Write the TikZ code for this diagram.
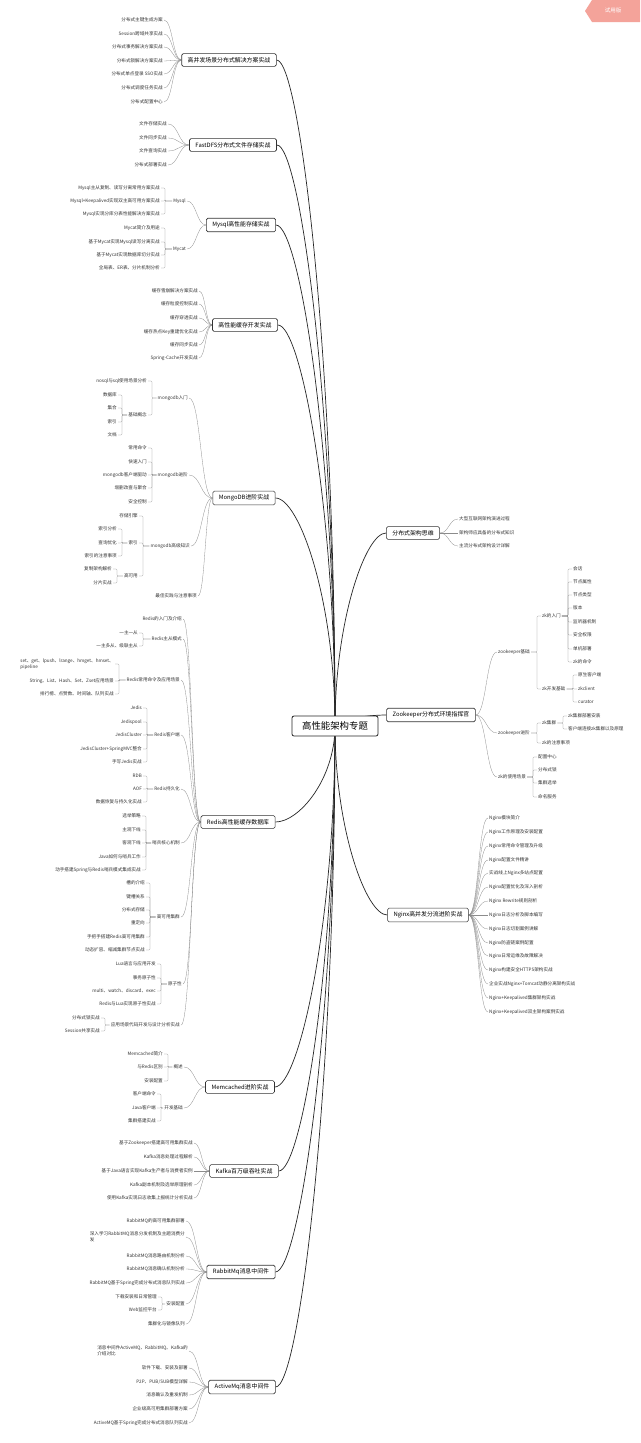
\documentclass[tikz,border=0pt]{standalone}
\usepackage{fontspec}
\setmainfont{Noto Sans CJK SC}
\usetikzlibrary{calc,backgrounds}

\newcommand\leaffont{\fontsize{4.6}{5.6}\selectfont}
\newcommand\topicfont{\fontsize{5.9}{7}\selectfont}
\newcommand\rootfont{\fontsize{9.4}{11}\selectfont}
\definecolor{wmsalmon}{HTML}{F4A39A}

\tikzset{
  root/.style={draw=black!85,line width=0.8pt,rounded corners=2pt,fill=white,font=\rootfont,minimum width=86pt,minimum height=20pt},
  topic/.style={draw=black!80,line width=0.6pt,rounded corners=1.5pt,fill=white,font=\topicfont,inner xsep=6pt,inner ysep=3.6pt},
  leaf/.style={font=\leaffont,text=black!80,inner xsep=1pt,inner ysep=0.6pt},
  ll/.style={leaf,anchor=east},
  rl/.style={leaf,anchor=west},
  trunk/.style={draw=black!85,line width=0.7pt,
    to path={.. controls ($(\tikztostart)!0.55!(\tikztostart|-\tikztotarget)$)
      and ($(\tikztotarget)!0.4!(\tikztotarget-|\tikztostart)$) .. (\tikztotarget)}},
  twig/.style={draw=black!45,line width=0.3pt,
    to path={.. controls ($(\tikztostart)!0.5!(\tikztostart-|\tikztotarget)$)
      and ($(\tikztotarget)!0.5!(\tikztotarget-|\tikztostart)$) .. (\tikztotarget)}},
  forkL/.style={draw=black!45,line width=0.3pt,rounded corners=1pt,
    to path={-| ($(\tikztotarget)+(4,0)$) -- (\tikztotarget)}},
  forkR/.style={draw=black!45,line width=0.3pt,rounded corners=1pt,
    to path={-| ($(\tikztotarget)+(-4,0)$) -- (\tikztotarget)}},
}

\begin{document}
\begin{tikzpicture}[x=1pt,y=-1pt]
\useasboundingbox (0,0) rectangle (640,1443);

\node[root] (C) at (335,726) {高性能架构专题};

% left side
\node[topic] (hc) at (229,60) {高并发场景分布式解决方案实战};
\node[ll] (hc1) at (164,20) {分布式主键生成方案};
\node[ll] (hc2) at (164,34) {Session跨域共享实战};
\node[ll] (hc3) at (164,47) {分布式事务解决方案实战};
\node[ll] (hc4) at (164,61) {分布式锁解决方案实战};
\node[ll] (hc5) at (164,74) {分布式单点登录 SSO实战};
\node[ll] (hc6) at (164,88) {分布式调度任务实战};
\node[ll] (hc7) at (164,102) {分布式配置中心};

\node[topic] (fd) at (233,145) {FastDFS分布式文件存储实战};
\node[ll] (fd1) at (168,124) {文件存储实战};
\node[ll] (fd2) at (168,138) {文件同步实战};
\node[ll] (fd3) at (168,151) {文件查询实战};
\node[ll] (fd4) at (168,165) {分布式部署实战};

\node[topic] (my) at (241,225) {Mysql高性能存储实战};
\node[ll] (myA) at (187,201) {Mysql};
\node[ll] (myB) at (187,249) {Mycat};
\node[ll] (myA1) at (161,188) {Mysql主从复制、读写分离常用方案实战};
\node[ll] (myA2) at (161,201) {Mysql+Keepalived实现双主高可用方案实战};
\node[ll] (myA3) at (161,214) {Mysql实现分库分表性能解决方案实战};
\node[ll] (myB1) at (161,228) {Mycat简介及用途};
\node[ll] (myB2) at (161,242) {基于Mycat实现Mysql读写分离实战};
\node[ll] (myB3) at (161,255) {基于Mycat实现数据库切分实战};
\node[ll] (myB4) at (161,268) {全局表、ER表、分片机制分析};

\node[topic] (ca) at (245,325) {高性能缓存开发实战};
\node[ll] (ca1) at (199,291) {缓存雪崩解决方案实战};
\node[ll] (ca2) at (199,304) {缓存粒度控制实战};
\node[ll] (ca3) at (199,318) {缓存穿透实战};
\node[ll] (ca4) at (199,332) {缓存热点Key重建优化实战};
\node[ll] (ca5) at (199,345) {缓存同步实战};
\node[ll] (ca6) at (199,358) {Spring-Cache开发实战};

\node[topic] (mg) at (244,498) {MongoDB进阶实战};
\node[ll] (mgA) at (189,398) {mongodb入门};
\node[ll] (mgA1) at (148,381) {nosql与sql使用场景分析};
\node[ll] (mgA2) at (148,415) {基础概念};
\node[ll] (mgA21) at (118,395) {数据库};
\node[ll] (mgA22) at (118,408) {集合};
\node[ll] (mgA23) at (118,422) {索引};
\node[ll] (mgA24) at (118,435) {文档};
\node[ll] (mgB) at (189,475) {mongodb进阶};
\node[ll] (mgB1) at (148,448) {常用命令};
\node[ll] (mgB2) at (148,462) {快速入门};
\node[ll] (mgB3) at (148,475) {mongodb客户端驱动};
\node[ll] (mgB4) at (148,488) {增删改查与聚合};
\node[ll] (mgB5) at (148,502) {安全控制};
\node[ll] (mgC) at (191,546) {mongodb高级知识};
\node[ll] (mgC1) at (139,516) {存储引擎};
\node[ll] (mgC2) at (139,543) {索引};
\node[ll] (mgC3) at (139,576) {高可用};
\node[ll] (mgC21) at (118,529) {索引分析};
\node[ll] (mgC22) at (118,543) {查询优化};
\node[ll] (mgC23) at (118,556) {索引的注意事项};
\node[ll] (mgC31) at (113,569) {复制架构解析};
\node[ll] (mgC32) at (113,583) {分片实战};
\node[ll] (mgD) at (198,596) {最佳实践与注意事项};

\node[topic] (rd) at (238,822) {Redis高性能缓存数据库};
\node[ll] (rdA) at (183,619) {Redis的入门及介绍};
\node[ll] (rdB) at (183,639) {Redis主从模式};
\node[ll] (rdB1) at (139,633) {一主一从};
\node[ll] (rdB2) at (139,646) {一主多从、级联主从};
\node[ll] (rdC) at (181,680) {Redis常用命令及应用场景};
\node[ll,align=left] (rdC1) at (115,664) {set、get、lpush、lrange、hmget、hmset、\\pipeline};
\node[ll] (rdC2) at (115,681) {String、List、Hash、Set、Zset应用场景};
\node[ll] (rdC3) at (115,694) {排行榜、点赞数、时间轴、队列实战};
\node[ll] (rdD) at (181,735) {Redis客户端};
\node[ll] (rdD1) at (143,708) {Jedis};
\node[ll] (rdD2) at (143,722) {Jedispool};
\node[ll] (rdD3) at (143,735) {JedisCluster};
\node[ll] (rdD4) at (143,749) {JedisCluster+SpringMVC整合};
\node[ll] (rdD5) at (143,762) {手写Jedis实战};
\node[ll] (rdE) at (181,789) {Redis持久化};
\node[ll] (rdE1) at (143,776) {RDB};
\node[ll] (rdE2) at (143,789) {AOF};
\node[ll] (rdE3) at (143,802) {数据恢复与持久化实战};
\node[ll] (rdF) at (181,843) {哨兵核心机制};
\node[ll] (rdF1) at (142,816) {选举策略};
\node[ll] (rdF2) at (142,830) {主观下线};
\node[ll] (rdF3) at (142,843) {客观下线};
\node[ll] (rdF4) at (142,857) {Java如何与哨兵工作};
\node[ll] (rdF5) at (142,870) {动手搭建Spring与Redis哨兵模式集成实战};
\node[ll] (rdG) at (181,917) {高可用集群};
\node[ll] (rdG1) at (146,883) {槽的介绍};
\node[ll] (rdG2) at (146,897) {键槽关系};
\node[ll] (rdG3) at (146,910) {分布式存储};
\node[ll] (rdG4) at (146,923) {重定向};
\node[ll] (rdG5) at (146,937) {手把手搭建Redis高可用集群};
\node[ll] (rdG6) at (146,950) {动态扩容、缩减集群节点实战};
\node[ll] (rdH) at (183,984) {原子性};
\node[ll] (rdH1) at (157,964) {Lua语言与应用开发};
\node[ll] (rdH2) at (157,978) {事务原子性};
\node[ll] (rdH3) at (157,991) {multi、watch、discard、exec};
\node[ll] (rdH4) at (157,1004) {Redis与Lua实现原子性实战};
\node[ll] (rdI) at (181,1025) {应用场景代码开发与设计分析实战};
\node[ll] (rdI1) at (101,1018) {分布式锁实战};
\node[ll] (rdI2) at (101,1031) {Session共享实战};

\node[topic] (mc) at (240,1087) {Memcached进阶实战};
\node[ll] (mcA) at (184,1067) {概述};
\node[ll] (mcA1) at (164,1054) {Memcached简介};
\node[ll] (mcA2) at (164,1067) {与Redis区别};
\node[ll] (mcA3) at (164,1081) {安装配置};
\node[ll] (mcB) at (184,1108) {开发基础};
\node[ll] (mcB1) at (157,1094) {客户端命令};
\node[ll] (mcB2) at (157,1108) {Java客户端};
\node[ll] (mcB3) at (157,1121) {集群搭建实战};

\node[topic] (kf) at (244,1171) {Kafka百万级吞吐实战};
\node[ll] (kf1) at (194,1143) {基于Zookeeper搭建高可用集群实战};
\node[ll] (kf2) at (194,1157) {Kafka消息处理过程解析};
\node[ll] (kf3) at (194,1171) {基于Java语言实现Kafka生产者与消费者实例};
\node[ll] (kf4) at (194,1185) {Kafka副本机制及选举原理剖析};
\node[ll] (kf5) at (194,1198) {使用Kafka实现日志收集上报统计分析实战};

\node[topic] (rb) at (241,1272) {RabbitMq消息中间件};
\node[ll] (rb1) at (186,1221) {RabbitMQ的高可用集群部署};
\node[ll,align=left] (rb2) at (186,1237) {深入学习RabbitMQ消息分发机制及主题消费分\\发};
\node[ll] (rb3) at (186,1256) {RabbitMQ消息路由机制分析};
\node[ll] (rb4) at (186,1269) {RabbitMQ消息确认机制分析};
\node[ll] (rb5) at (186,1283) {RabbitMQ基于Spring完成分布式消息队列实战};
\node[ll] (rbA) at (186,1304) {安装配置};
\node[ll] (rbA1) at (158,1297) {下载安装和日常管理};
\node[ll] (rbA2) at (158,1310) {Web监控平台};
\node[ll] (rb7) at (186,1324) {集群化与镜像队列};

\node[topic] (am) at (242,1387) {ActiveMq消息中间件};
\node[ll,align=left] (am1) at (189,1351) {消息中间件ActiveMQ、RabbitMQ、Kafka的\\介绍对比};
\node[ll] (am2) at (189,1368) {软件下载、安装及部署};
\node[ll] (am3) at (189,1382) {P2P、PUB/SUB模型详解};
\node[ll] (am4) at (189,1395) {消息确认及重发机制};
\node[ll] (am5) at (189,1409) {企业级高可用集群部署方案};
\node[ll] (am6) at (189,1423) {ActiveMQ基于Spring完成分布式消息队列实战};

% right side
\node[topic] (ds) at (413,533) {分布式架构思维};
\node[rl] (ds1) at (458,519) {大型互联网架构演进过程};
\node[rl] (ds2) at (458,533) {架构师应具备的分布式知识};
\node[rl] (ds3) at (458,546) {主流分布式架构设计详解};

\node[topic] (zk) at (431,715) {Zookeeper分布式环境指挥官};
\node[rl] (zkA) at (497,652) {zookeeper基础};
\node[rl] (zkA1) at (541,616) {zk的入门};
\node[rl] (zkA2) at (541,689) {zk开发基础};
\node[rl] (zkA11) at (572,569) {会话};
\node[rl] (zkA12) at (572,582) {节点属性};
\node[rl] (zkA13) at (572,595) {节点类型};
\node[rl] (zkA14) at (572,608) {版本};
\node[rl] (zkA15) at (572,622) {监听器机制};
\node[rl] (zkA16) at (572,635) {安全权限};
\node[rl] (zkA17) at (572,649) {单机部署};
\node[rl] (zkA18) at (572,662) {zk的命令};
\node[rl] (zkA21) at (577,675) {原生客户端};
\node[rl] (zkA22) at (577,689) {zkclient};
\node[rl] (zkA23) at (577,702) {curator};
\node[rl] (zkB) at (497,733) {zookeeper进阶};
\node[rl] (zkB1) at (541,723) {zk集群};
\node[rl] (zkB2) at (541,743) {zk的注意事项};
\node[rl] (zkB11) at (567,716) {zk集群部署安装};
\node[rl] (zkB12) at (567,729) {客户端连接zk集群以及原理};
\node[rl] (zkC) at (497,777) {zk的使用场景};
\node[rl] (zkC1) at (537,757) {配置中心};
\node[rl] (zkC2) at (537,770) {分布式锁};
\node[rl] (zkC3) at (537,783) {集群选举};
\node[rl] (zkC4) at (537,797) {命名服务};

\node[topic] (ng) at (428,915) {Nginx高并发分流进阶实战};
\node[rl] (ng1) at (488,818) {Nginx模块简介};
\node[rl] (ng2) at (488,832) {Nginx工作原理及安装配置};
\node[rl] (ng3) at (488,846) {Nginx常用命令管理及升级};
\node[rl] (ng4) at (488,860) {Nginx配置文件精讲};
\node[rl] (ng5) at (488,873) {实战线上Nginx多站点配置};
\node[rl] (ng6) at (488,887) {Nginx配置优化及深入剖析};
\node[rl] (ng7) at (488,901) {Nginx Rewrite规则剖析};
\node[rl] (ng8) at (488,915) {Nginx日志分析及脚本编写};
\node[rl] (ng9) at (488,929) {Nginx日志切割案例讲解};
\node[rl] (ng10) at (488,943) {Nginx防盗链案例配置};
\node[rl] (ng11) at (488,956) {Nginx日常运维及故障解决};
\node[rl] (ng12) at (488,970) {Nginx构建安全HTTPS架构实战};
\node[rl] (ng13) at (488,984) {企业实战Nginx+Tomcat动静分离架构实战};
\node[rl] (ng14) at (488,998) {Nginx+Keepalived集群架构实战};
\node[rl] (ng15) at (488,1012) {Nginx+Keepalived双主架构案例实战};

% watermark tag
\fill[wmsalmon] (585,11) -- (592,0) -- (640,0) -- (640,22) -- (592,22) -- cycle;
\node[font=\fontsize{5.5}{6}\selectfont,text=white] (wm) at (613,10) {试用版};

\begin{scope}[on background layer]
\fill[white] (0,0) rectangle (640,1443);
% main branches
\path (C.center) edge[trunk] (hc.east) edge[trunk] (fd.east) edge[trunk] (my.east)
  edge[trunk] (ca.east) edge[trunk] (mg.east) edge[trunk] (rd.east) edge[trunk] (mc.east)
  edge[trunk] (kf.east) edge[trunk] (rb.east) edge[trunk] (am.east)
  edge[trunk] (ds.west) edge[trunk] (zk.west) edge[trunk] (ng.west);

% sub topics
\path (hc.west) edge[twig] (hc1.east) edge[twig] (hc2.east) edge[twig] (hc3.east) edge[twig] (hc4.east)
  edge[twig] (hc5.east) edge[twig] (hc6.east) edge[twig] (hc7.east);
\path (fd.west) edge[twig] (fd1.east) edge[twig] (fd2.east) edge[twig] (fd3.east) edge[twig] (fd4.east);
\path (my.west) edge[twig] (myA.east) edge[twig] (myB.east);
\path (myA.west) edge[forkL] (myA1.east) edge[forkL] (myA2.east) edge[forkL] (myA3.east);
\path (myB.west) edge[forkL] (myB1.east) edge[forkL] (myB2.east) edge[forkL] (myB3.east) edge[forkL] (myB4.east);
\path (ca.west) edge[twig] (ca1.east) edge[twig] (ca2.east) edge[twig] (ca3.east) edge[twig] (ca4.east)
  edge[twig] (ca5.east) edge[twig] (ca6.east);

\path (mg.west) edge[twig] (mgA.east) edge[twig] (mgB.east) edge[twig] (mgC.east) edge[twig] (mgD.east);
\path (mgA.west) edge[forkL] (mgA1.east) edge[forkL] (mgA2.east);
\path (mgA2.west) edge[forkL] (mgA21.east) edge[forkL] (mgA22.east) edge[forkL] (mgA23.east) edge[forkL] (mgA24.east);
\path (mgB.west) edge[forkL] (mgB1.east) edge[forkL] (mgB2.east) edge[forkL] (mgB3.east) edge[forkL] (mgB4.east) edge[forkL] (mgB5.east);
\path (mgC.west) edge[forkL] (mgC1.east) edge[forkL] (mgC2.east) edge[forkL] (mgC3.east);
\path (mgC2.west) edge[forkL] (mgC21.east) edge[forkL] (mgC22.east) edge[forkL] (mgC23.east);
\path (mgC3.west) edge[forkL] (mgC31.east) edge[forkL] (mgC32.east);

\path (rd.west) edge[twig] (rdA.east) edge[twig] (rdB.east) edge[twig] (rdC.east) edge[twig] (rdD.east)
  edge[twig] (rdE.east) edge[twig] (rdF.east) edge[twig] (rdG.east) edge[twig] (rdH.east) edge[twig] (rdI.east);
\path (rdB.west) edge[forkL] (rdB1.east) edge[forkL] (rdB2.east);
\path (rdC.west) edge[forkL] (rdC1.east) edge[forkL] (rdC2.east) edge[forkL] (rdC3.east);
\path (rdD.west) edge[forkL] (rdD1.east) edge[forkL] (rdD2.east) edge[forkL] (rdD3.east) edge[forkL] (rdD4.east) edge[forkL] (rdD5.east);
\path (rdE.west) edge[forkL] (rdE1.east) edge[forkL] (rdE2.east) edge[forkL] (rdE3.east);
\path (rdF.west) edge[forkL] (rdF1.east) edge[forkL] (rdF2.east) edge[forkL] (rdF3.east) edge[forkL] (rdF4.east) edge[forkL] (rdF5.east);
\path (rdG.west) edge[forkL] (rdG1.east) edge[forkL] (rdG2.east) edge[forkL] (rdG3.east) edge[forkL] (rdG4.east)
  edge[forkL] (rdG5.east) edge[forkL] (rdG6.east);
\path (rdH.west) edge[forkL] (rdH1.east) edge[forkL] (rdH2.east) edge[forkL] (rdH3.east) edge[forkL] (rdH4.east);
\path (rdI.west) edge[forkL] (rdI1.east) edge[forkL] (rdI2.east);

\path (mc.west) edge[twig] (mcA.east) edge[twig] (mcB.east);
\path (mcA.west) edge[forkL] (mcA1.east) edge[forkL] (mcA2.east) edge[forkL] (mcA3.east);
\path (mcB.west) edge[forkL] (mcB1.east) edge[forkL] (mcB2.east) edge[forkL] (mcB3.east);
\path (kf.west) edge[twig] (kf1.east) edge[twig] (kf2.east) edge[twig] (kf3.east) edge[twig] (kf4.east) edge[twig] (kf5.east);
\path (rb.west) edge[twig] (rb1.east) edge[twig] (rb2.east) edge[twig] (rb3.east) edge[twig] (rb4.east)
  edge[twig] (rb5.east) edge[twig] (rbA.east) edge[twig] (rb7.east);
\path (rbA.west) edge[forkL] (rbA1.east) edge[forkL] (rbA2.east);
\path (am.west) edge[twig] (am1.east) edge[twig] (am2.east) edge[twig] (am3.east) edge[twig] (am4.east)
  edge[twig] (am5.east) edge[twig] (am6.east);

\path (ds.east) edge[twig] (ds1.west) edge[twig] (ds2.west) edge[twig] (ds3.west);
\path (zk.east) edge[twig] (zkA.west) edge[twig] (zkB.west) edge[twig] (zkC.west);
\path (zkA.east) edge[forkR] (zkA1.west) edge[forkR] (zkA2.west);
\path (zkA1.east) edge[forkR] (zkA11.west) edge[forkR] (zkA12.west) edge[forkR] (zkA13.west) edge[forkR] (zkA14.west)
  edge[forkR] (zkA15.west) edge[forkR] (zkA16.west) edge[forkR] (zkA17.west) edge[forkR] (zkA18.west);
\path (zkA2.east) edge[forkR] (zkA21.west) edge[forkR] (zkA22.west) edge[forkR] (zkA23.west);
\path (zkB.east) edge[forkR] (zkB1.west) edge[forkR] (zkB2.west);
\path (zkB1.east) edge[forkR] (zkB11.west) edge[forkR] (zkB12.west);
\path (zkC.east) edge[forkR] (zkC1.west) edge[forkR] (zkC2.west) edge[forkR] (zkC3.west) edge[forkR] (zkC4.west);
\path (ng.east) edge[twig] (ng1.west) edge[twig] (ng2.west) edge[twig] (ng3.west) edge[twig] (ng4.west)
  edge[twig] (ng5.west) edge[twig] (ng6.west) edge[twig] (ng7.west) edge[twig] (ng8.west)
  edge[twig] (ng9.west) edge[twig] (ng10.west) edge[twig] (ng11.west) edge[twig] (ng12.west)
  edge[twig] (ng13.west) edge[twig] (ng14.west) edge[twig] (ng15.west);
\end{scope}
\end{tikzpicture}
\end{document}
